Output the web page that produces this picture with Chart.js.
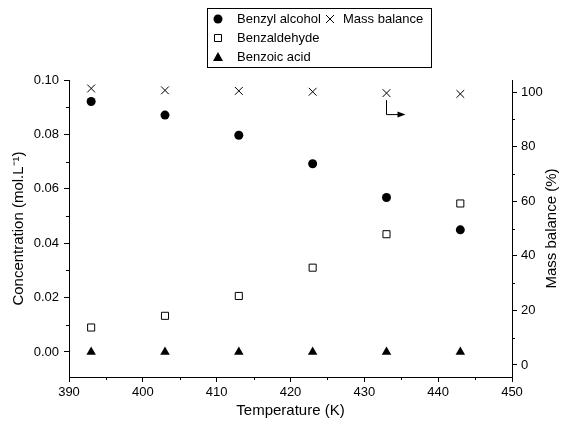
<!DOCTYPE html>
<html lang="en">
<head>
<meta charset="UTF-8">
<title>Concentration and mass balance vs temperature</title>
<script src="https://cdn.jsdelivr.net/npm/chart.js"></script>
<style>
    * { margin: 0; padding: 0; box-sizing: border-box; }
    body { background: #fff; }
    #wrap { width: 565px; height: 426px; position: relative; }
</style>
</head>
<body>
<div id="wrap">
    <canvas id="chart" width="565" height="426"></canvas>
</div>
<script>
    // data
    const temperature = [393, 403, 413, 423, 433, 443];
    const benzylAlcohol = [0.0921, 0.0871, 0.0797, 0.0692, 0.0568, 0.0449];
    const benzaldehyde = [0.0090, 0.0133, 0.0206, 0.0310, 0.0433, 0.0546];
    const benzoicAcid = [0, 0, 0, 0, 0, 0];
    const massBalance = [101.3, 100.6, 100.4, 100.1, 99.6, 99.3];

    // axis ticks
    const xTicks = [390, 400, 410, 420, 430, 440, 450];
    const xMinor = [395, 405, 415, 425, 435, 445];
    const concTicks = [0, 0.02, 0.04, 0.06, 0.08, 0.10];
    const concMinor = [0.01, 0.03, 0.05, 0.07, 0.09];
    const massTicks = [0, 20, 40, 60, 80, 100];
    const massMinor = [10, 30, 50, 70, 90];

    const FONT = "'Liberation Sans', Arial, sans-serif";

    function pts(xs, ys) {
        return xs.map((x, i) => ({ x: x, y: ys[i] }));
    }

    function drawMarker(ctx, style, x, y) {
        ctx.save();
        ctx.strokeStyle = '#000';
        ctx.fillStyle = '#000';
        ctx.lineWidth = 1;
        ctx.beginPath();
        if (style === 'circle') {
            ctx.arc(x, y, 4.5, 0, Math.PI * 2);
            ctx.fill();
        } else if (style === 'rect') {
            ctx.fillStyle = '#fff';
            ctx.rect(x - 3.5, y - 3.5, 7, 7);
            ctx.fill();
            ctx.stroke();
        } else if (style === 'triangle') {
            ctx.moveTo(x, y - 5);
            ctx.lineTo(x + 5, y + 4);
            ctx.lineTo(x - 5, y + 4);
            ctx.closePath();
            ctx.fill();
        } else {
            ctx.moveTo(x - 4, y - 4); ctx.lineTo(x + 4, y + 4);
            ctx.moveTo(x + 4, y - 4); ctx.lineTo(x - 4, y + 4);
            ctx.stroke();
        }
        ctx.restore();
    }

    // frame extras: minor ticks, axis titles, legend box, arrow
    const extras = {
        id: 'extras',
        afterDraw(chart) {
            const ctx = chart.ctx;
            const xs = chart.scales.x, yl = chart.scales.y, yr = chart.scales.y1;
            const area = chart.chartArea;
            ctx.save();
            ctx.strokeStyle = '#000';
            ctx.lineWidth = 1;
            ctx.beginPath();
            xMinor.forEach(v => {
                const p = Math.round(xs.getPixelForValue(v)) + 0.5;
                ctx.moveTo(p, area.bottom); ctx.lineTo(p, area.bottom + 3);
            });
            concMinor.forEach(v => {
                const p = Math.round(yl.getPixelForValue(v)) + 0.5;
                ctx.moveTo(area.left, p); ctx.lineTo(area.left - 3, p);
            });
            massMinor.forEach(v => {
                const p = Math.round(yr.getPixelForValue(v)) + 0.5;
                ctx.moveTo(area.right, p); ctx.lineTo(area.right + 3, p);
            });
            ctx.stroke();

            // axis titles
            ctx.fillStyle = '#000';
            ctx.font = '15px ' + FONT;
            ctx.textAlign = 'center';
            ctx.textBaseline = 'middle';
            ctx.fillText('Temperature (K)', (area.left + area.right) / 2, 411);
            const midY = (area.top + area.bottom) / 2;
            ctx.save();
            ctx.translate(19, midY);
            ctx.rotate(-Math.PI / 2);
            ctx.fillText('Concentration (mol.L\u207B\u00B9)', 0, 0);
            ctx.restore();
            ctx.save();
            ctx.translate(552, midY);
            ctx.rotate(-Math.PI / 2);
            ctx.fillText('Mass balance (%)', 0, 0);
            ctx.restore();

            // legend
            ctx.strokeRect(207.5, 8.5, 224, 59);
            ctx.font = '13px ' + FONT;
            ctx.textAlign = 'left';
            const ds = chart.data.datasets;
            const rows = [[218, 19], [218, 38], [218, 57], [330, 19]];
            ds.forEach((d, i) => {
                const [mx, my] = rows[i];
                drawMarker(ctx, d.pointStyle, mx, my);
                ctx.fillText(d.label, mx + (i === 3 ? 13 : 19), my);
            });

            // arrow pointing at the right axis
            const ax = Math.round(xs.getPixelForValue(temperature[4])) + 0.5;
            const ay = yr.getPixelForValue(massBalance[4]) + 7;
            ctx.beginPath();
            ctx.moveTo(ax, ay);
            ctx.lineTo(ax, ay + 14.5);
            ctx.lineTo(ax + 13, ay + 14.5);
            ctx.stroke();
            ctx.beginPath();
            ctx.moveTo(ax + 19, ay + 14.5);
            ctx.lineTo(ax + 11, ay + 11.5);
            ctx.lineTo(ax + 11, ay + 17.5);
            ctx.closePath();
            ctx.fill();
            ctx.restore();
        }
    };

    function axisGrid() {
        return { display: true, drawOnChartArea: false, drawTicks: true, tickLength: 5, color: '#000', lineWidth: 1 };
    }

    new Chart(document.getElementById('chart'), {
        type: 'scatter',
        data: {
            datasets: [
                {
                    label: 'Benzyl alcohol', data: pts(temperature, benzylAlcohol), yAxisID: 'y',
                    pointStyle: 'circle', pointRadius: 4.5, backgroundColor: '#000', borderColor: '#000', borderWidth: 0
                },
                {
                    label: 'Benzaldehyde', data: pts(temperature, benzaldehyde), yAxisID: 'y',
                    pointStyle: 'rect', pointRadius: 5, backgroundColor: '#fff', borderColor: '#000', borderWidth: 1
                },
                {
                    label: 'Benzoic acid', data: pts(temperature, benzoicAcid), yAxisID: 'y',
                    pointStyle: 'triangle', pointRadius: 5.5, backgroundColor: '#000', borderColor: '#000', borderWidth: 0
                },
                {
                    label: 'Mass balance', data: pts(temperature, massBalance), yAxisID: 'y1',
                    pointStyle: 'crossRot', pointRadius: 5.5, backgroundColor: '#000', borderColor: '#000', borderWidth: 1
                }
            ]
        },
        options: {
            responsive: false,
            animation: false,
            layout: { padding: { top: 80, left: 0, right: 0, bottom: 0 } },
            plugins: {
                legend: { display: false },
                tooltip: { enabled: false }
            },
            scales: {
                x: {
                    type: 'linear',
                    min: 390, max: 450,
                    afterBuildTicks: s => { s.ticks = xTicks.map(v => ({ value: v })); },
                    afterFit: s => { s.height = 49; },
                    grid: axisGrid(),
                    border: { display: true, color: '#000', width: 1 },
                    ticks: { color: '#000', padding: 3, maxRotation: 0, font: { family: FONT, size: 13 } }
                },
                y: {
                    type: 'linear', position: 'left',
                    min: -0.0092, max: 0.1,
                    afterBuildTicks: s => { s.ticks = concTicks.map(v => ({ value: v })); },
                    afterFit: s => { s.width = 69; },
                    grid: axisGrid(),
                    border: { display: true, color: '#000', width: 1 },
                    ticks: {
                        color: '#000', padding: 5, font: { family: FONT, size: 13 },
                        callback: v => v.toFixed(2)
                    }
                },
                y1: {
                    type: 'linear', position: 'right',
                    min: -4.4, max: 104.4,
                    afterBuildTicks: s => { s.ticks = massTicks.map(v => ({ value: v })); },
                    afterFit: s => { s.width = 53; },
                    grid: axisGrid(),
                    border: { display: true, color: '#000', width: 1 },
                    ticks: { color: '#000', padding: 4, font: { family: FONT, size: 13 } }
                }
            }
        },
        plugins: [extras]
    });
</script>
</body>
</html>
